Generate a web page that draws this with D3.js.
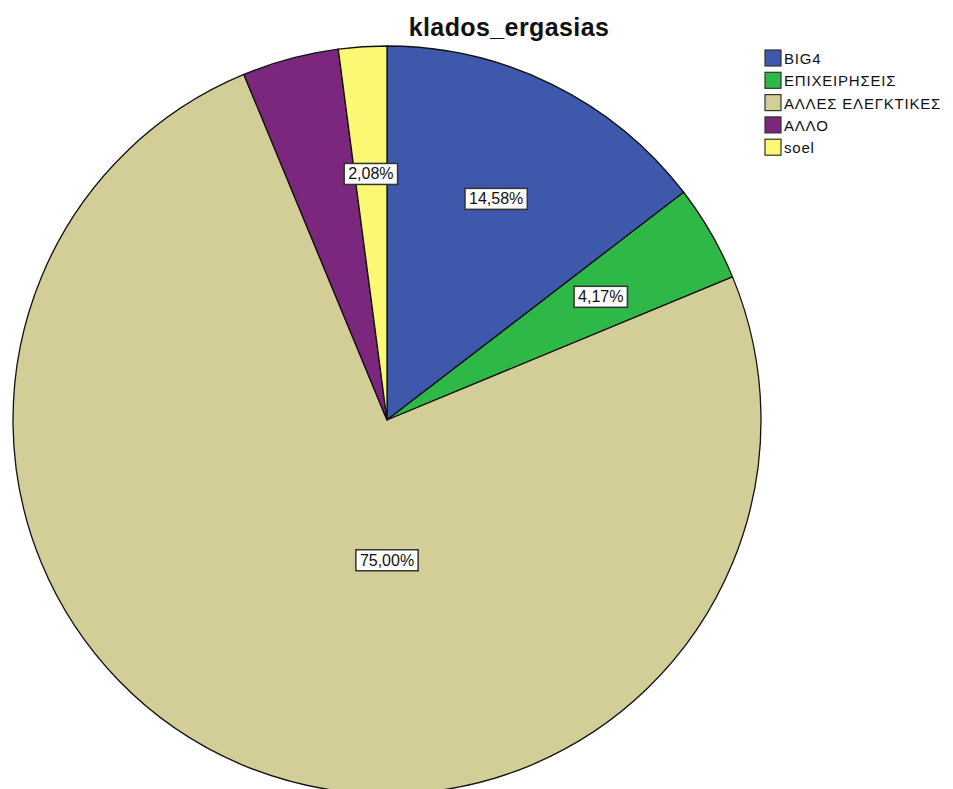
<!DOCTYPE html>
<html>
<head>
<meta charset="utf-8">
<script src="https://cdn.jsdelivr.net/npm/d3@7"></script>
<style>
  html, body { margin: 0; padding: 0; background: #fff; }
  svg { display: block; }
</style>
</head>
<body>
<script>
// Share of respondents by sector of employment (percent)
const categories = ["BIG4", "ΕΠΙΧΕΙΡΗΣΕΙΣ", "ΑΛΛΕΣ ΕΛΕΓΚΤΙΚΕΣ", "ΑΛΛΟ", "soel"];
const percents   = [14.58, 4.17, 75.00, 4.17, 2.08];
const showLabel  = [true, true, true, false, true];
const colors     = ["#3e58ac", "#2eb848", "#d3ce97", "#7b277d", "#fbf873"];
const title      = "klados_ergasias";

const W = 953, H = 789;
const cx = 387, cy = 420, R = 374;

const svg = d3.select("body").append("svg")
  .attr("width", W).attr("height", H);

svg.append("text")
  .attr("x", 509).attr("y", 36)
  .attr("text-anchor", "middle")
  .attr("font-family", "Liberation Sans, Arial, sans-serif")
  .attr("font-weight", "bold")
  .attr("font-size", 25)
  .attr("letter-spacing", 0.4)
  .attr("fill", "#111")
  .text(title);

const data = categories.map((c, i) => ({ cat: c, value: percents[i], label: showLabel[i], color: colors[i] }));

const pie = d3.pie().value(d => d.value).sort(null);
const arcs = pie(data);
const arc = d3.arc().innerRadius(0).outerRadius(R);
const labelArc = d3.arc().innerRadius(R * 0.66).outerRadius(R * 0.66);

const g = svg.append("g").attr("transform", `translate(${cx},${cy})`);

g.selectAll("path.slice").data(arcs).join("path")
  .attr("class", "slice")
  .attr("d", arc)
  .attr("fill", d => d.data.color)
  .attr("stroke", "#111")
  .attr("stroke-width", 1.3)
  .attr("stroke-linejoin", "round");

const fmt = v => v.toFixed(2).replace(".", ",") + "%";

// Labels: small slices sit on a ring, the dominant slice gets its label below the centre
function labelPos(d) {
  if (d.endAngle - d.startAngle > Math.PI) return [0, 140];
  return labelArc.centroid(d);
}

const lab = g.selectAll("g.lab").data(arcs.filter(d => d.data.label)).join("g")
  .attr("class", "lab")
  .attr("transform", d => `translate(${labelPos(d)})`);

lab.append("text")
  .attr("text-anchor", "middle")
  .attr("dy", "0.36em")
  .attr("font-family", "Liberation Sans, Arial, sans-serif")
  .attr("font-size", 16)
  .attr("fill", "#111")
  .text(d => fmt(d.data.value));

lab.each(function () {
  const t = d3.select(this).select("text");
  const b = t.node().getBBox();
  d3.select(this).insert("rect", "text")
    .attr("x", b.x - 4).attr("y", b.y - 2)
    .attr("width", b.width + 8).attr("height", b.height + 4)
    .attr("fill", "#fff")
    .attr("stroke", "#333")
    .attr("stroke-width", 1.5);
});

// Legend
const leg = svg.append("g").attr("transform", "translate(765,50)");
const rows = leg.selectAll("g").data(data).join("g")
  .attr("transform", (d, i) => `translate(0,${i * 22.3})`);
rows.append("rect")
  .attr("width", 16).attr("height", 16)
  .attr("fill", d => d.color)
  .attr("stroke", "#333").attr("stroke-width", 1.2);
rows.append("text")
  .attr("x", 19).attr("y", 14)
  .attr("font-family", "Liberation Sans, Arial, sans-serif")
  .attr("font-size", 15)
  .attr("letter-spacing", 0.8)
  .attr("fill", "#111")
  .text(d => d.cat);
</script>
</body>
</html>
